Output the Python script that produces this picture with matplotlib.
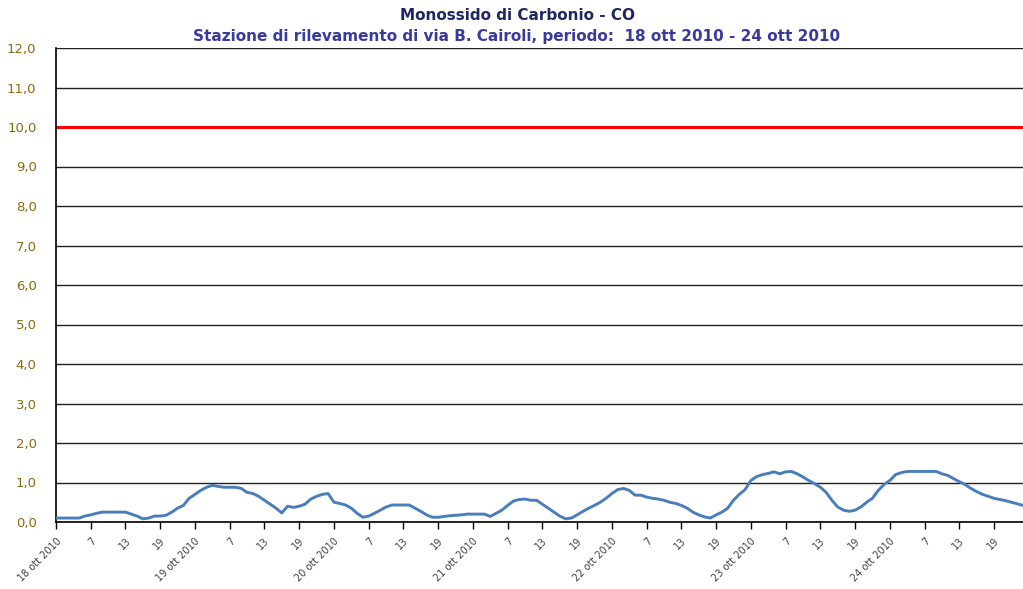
import matplotlib
matplotlib.use("Agg")
import matplotlib.pyplot as plt
import numpy as np

# hourly CO values, 18 ott 2010 01:00 .. 24 ott 2010 24:00
day18 = [0.1, 0.1, 0.1, 0.1, 0.1, 0.15, 0.18, 0.22, 0.25, 0.25, 0.25, 0.25,
         0.25, 0.2, 0.15, 0.08, 0.1, 0.15, 0.15, 0.17, 0.25, 0.35, 0.42, 0.6]
day19 = [0.7, 0.8, 0.88, 0.93, 0.9, 0.88, 0.88, 0.88, 0.85, 0.75, 0.72, 0.65,
         0.55, 0.45, 0.35, 0.23, 0.4, 0.37, 0.4, 0.45, 0.58, 0.65, 0.7, 0.72]
day20 = [0.5, 0.47, 0.43, 0.35, 0.22, 0.12, 0.15, 0.22, 0.3, 0.38, 0.43, 0.43,
         0.43, 0.43, 0.35, 0.27, 0.18, 0.12, 0.12, 0.14, 0.16, 0.17, 0.18, 0.2]
day21 = [0.2, 0.2, 0.2, 0.14, 0.22, 0.3, 0.42, 0.53, 0.57, 0.58, 0.55, 0.55,
         0.45, 0.35, 0.25, 0.15, 0.08, 0.1, 0.18, 0.27, 0.35, 0.42, 0.5, 0.6]
day22 = [0.72, 0.82, 0.85, 0.8, 0.68, 0.68, 0.63, 0.6, 0.58, 0.55, 0.5, 0.47,
         0.42, 0.35, 0.25, 0.18, 0.13, 0.1, 0.18, 0.25, 0.35, 0.55, 0.7, 0.82]
day23 = [1.05, 1.15, 1.2, 1.23, 1.27, 1.22, 1.27, 1.28, 1.22, 1.14, 1.05, 0.97,
         0.88, 0.75, 0.55, 0.38, 0.3, 0.27, 0.3, 0.38, 0.5, 0.6, 0.8, 0.95]
day24 = [1.05, 1.2, 1.25, 1.28, 1.28, 1.28, 1.28, 1.28, 1.28, 1.22, 1.18, 1.1,
         1.02, 0.95, 0.85, 0.77, 0.7, 0.65, 0.6, 0.57, 0.54, 0.5, 0.46, 0.42]
co_values = day18 + day19 + day20 + day21 + day22 + day23 + day24

day_labels = ["18 ott 2010", "19 ott 2010", "20 ott 2010", "21 ott 2010",
              "22 ott 2010", "23 ott 2010", "24 ott 2010"]
hour_labels = ["7", "13", "19"]
limit_value = 10.0
y_ticks = list(range(0, 13))

title1 = "Monossido di Carbonio - CO"
title2 = "Stazione di rilevamento di via B. Cairoli, periodo:  18 ott 2010 - 24 ott 2010"

fig = plt.figure(figsize=(10.23, 5.89), dpi=100)
ax = fig.add_axes([56/1023, 1-522/589, 1-56/1023, (522-48)/589])

x = np.arange(len(co_values))
ax.plot(x, co_values, color="#4A7EBB", lw=2.1, solid_capstyle="round", zorder=3)
ax.axhline(limit_value, color="#FF0000", lw=2.2, zorder=2)

ax.set_ylim(0, 12)
ax.set_xlim(0, len(co_values) - 1)
ax.set_yticks(y_ticks)
ax.set_yticklabels([f"{v},0" for v in y_ticks], fontsize=9.5, color="#8A6A10")
ax.yaxis.grid(True, color="#202020", lw=1.0)
ax.set_axisbelow(True)
ax.tick_params(axis="y", length=0, pad=14)

ticks = []
labels = []
for d, dl in enumerate(day_labels):
    ticks.append(d * 24)
    labels.append(dl)
    for k, hl in enumerate(hour_labels):
        ticks.append(d * 24 + 6 * (k + 1))
        labels.append(hl)
ax.set_xticks(ticks)
ax.set_xticklabels(labels, rotation=45, ha="right", rotation_mode="anchor",
                   fontsize=7, color="#404040")
ax.tick_params(axis="x", length=5, width=1, color="black", direction="out", pad=5)

for s in ["top", "right"]:
    ax.spines[s].set_visible(False)
ax.spines["left"].set_color("black")
ax.spines["bottom"].set_color("black")
ax.spines["left"].set_linewidth(1.2)
ax.spines["bottom"].set_linewidth(1.2)

fig.text(517/1023, 1-16/589, title1, ha="center", va="center", fontsize=11,
         fontweight="bold", color="#1F2660")
fig.text(517/1023, 1-37/589, title2, ha="center", va="center", fontsize=11,
         fontweight="bold", color="#3A3A9E")

fig.savefig("out.png", dpi=100)
